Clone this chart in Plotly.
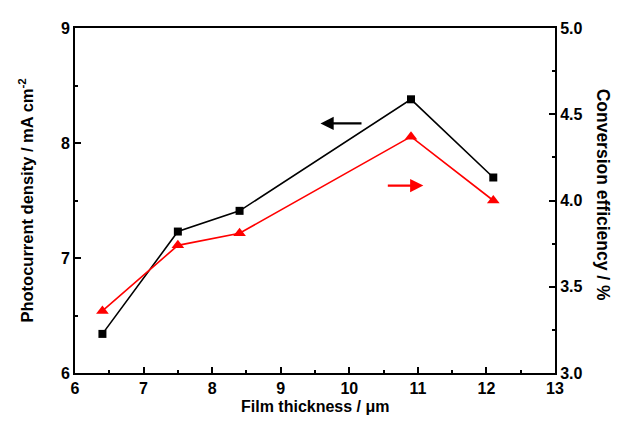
import plotly.graph_objects as go

thickness = [6.4, 7.5, 8.4, 10.9, 12.1]
photocurrent = [6.34, 7.23, 7.41, 8.38, 7.70]
efficiency = [3.36, 3.74, 3.81, 4.37, 4.00]

x_ticks = [6, 7, 8, 9, 10, 11, 12, 13]
y_ticks = [6, 7, 8, 9]
y2_ticks = [3.0, 3.5, 4.0, 4.5, 5.0]

FONT = "Arial, Liberation Sans, sans-serif"

fig = go.Figure()
fig.add_trace(go.Scatter(
    x=thickness, y=photocurrent, mode="lines+markers",
    line=dict(color="black", width=1.6),
    marker=dict(symbol="square", size=8, color="black"),
    yaxis="y", showlegend=False))
fig.add_trace(go.Scatter(
    x=thickness, y=efficiency, mode="lines+markers",
    line=dict(color="#ff0000", width=1.6),
    marker=dict(symbol="triangle-up", size=11, color="#ff0000"),
    yaxis="y2", showlegend=False))

axis_common = dict(
    showline=True, linecolor="black", linewidth=2,
    ticks="inside", ticklen=6, tickwidth=2, tickcolor="black",
    showgrid=False, zeroline=False,
    tickfont=dict(family=FONT, size=16, color="black", weight="bold"),
)

fig.update_layout(
    width=611, height=421,
    margin=dict(l=67, r=64, t=15, b=56),
    paper_bgcolor="white", plot_bgcolor="white",
    font=dict(family=FONT, color="black"),
    xaxis=dict(range=[6, 13], tickvals=x_ticks, mirror=True,
               minor=dict(ticks="inside", ticklen=3, tickwidth=2, dtick=0.5, tickcolor="black"),
               **axis_common),
    yaxis=dict(range=[6, 9], tickvals=y_ticks,
               minor=dict(ticks="inside", ticklen=3, tickwidth=2, dtick=0.5, tickcolor="black"),
               **axis_common),
    yaxis2=dict(range=[3, 5], tickvals=y2_ticks, ticktext=[f"{v:.1f}" for v in y2_ticks],
                overlaying="y", side="right",
                minor=dict(ticks="inside", ticklen=3, tickwidth=2, dtick=0.25, tickcolor="black"),
                **axis_common),
)

fig.add_annotation(x=9.58, y=8.17, ax=10.20, ay=8.17, xref="x", yref="y", axref="x", ayref="y",
                   showarrow=True, arrowhead=2, arrowsize=1.2, arrowwidth=2.2, arrowcolor="black", text="")
fig.add_annotation(x=11.08, y=7.63, ax=10.54, ay=7.63, xref="x", yref="y", axref="x", ayref="y",
                   showarrow=True, arrowhead=2, arrowsize=1.2, arrowwidth=2.2, arrowcolor="#ff0000", text="")

fig.add_annotation(text="Film thickness / μm", xref="paper", yref="paper", x=0.5, y=-0.097,
                   xanchor="center", yanchor="middle", showarrow=False,
                   font=dict(family=FONT, size=16, color="black", weight="bold"))
fig.add_annotation(text="Photocurrent density / mA cm<sup>-2</sup>", xref="paper", yref="paper",
                   x=-0.104, y=0.5, xanchor="center", yanchor="middle", textangle=-90, showarrow=False,
                   font=dict(family=FONT, size=16.5, color="black", weight="bold"))
fig.add_annotation(text="Conversion efficiency / %", xref="paper", yref="paper",
                   x=1.1, y=0.517, xanchor="center", yanchor="middle", textangle=90, showarrow=False,
                   font=dict(family=FONT, size=17.5, color="black", weight="bold"))

fig.write_html("out.html")
